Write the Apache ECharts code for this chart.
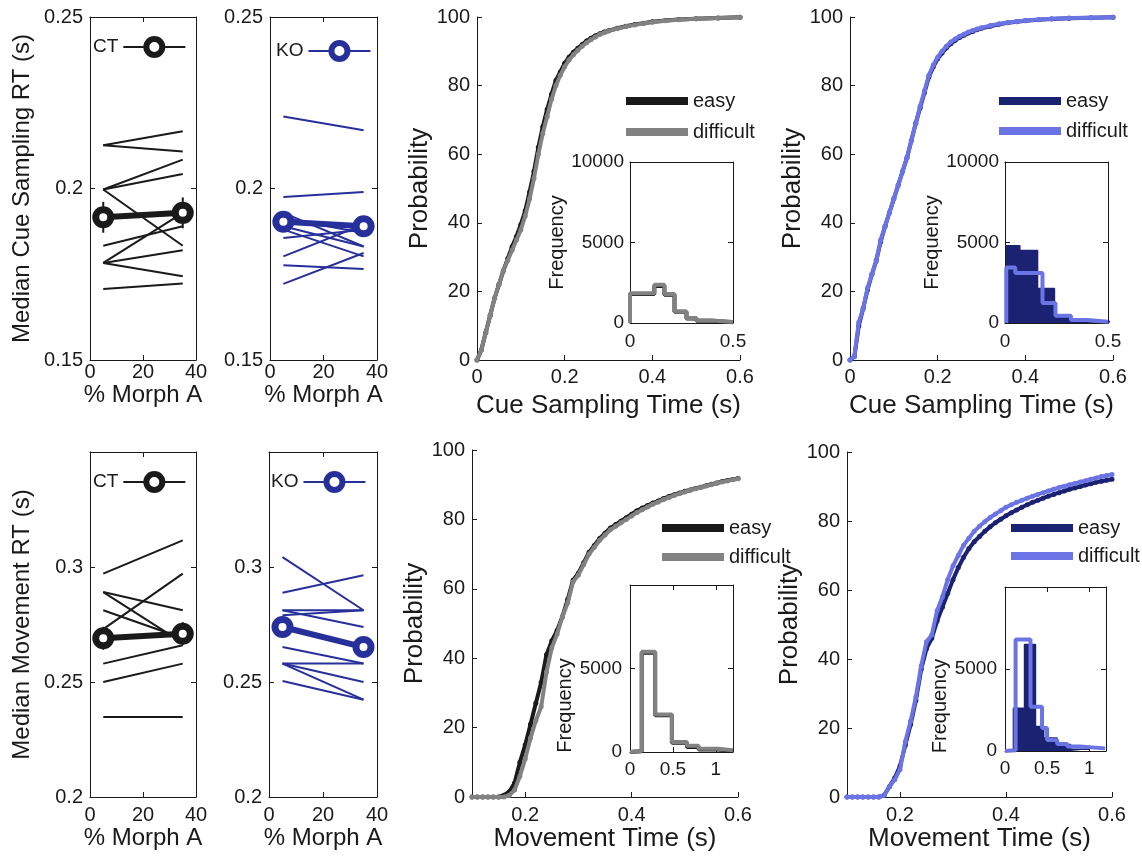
<!DOCTYPE html>
<html>
<head>
<meta charset="utf-8">
<script src="https://cdn.jsdelivr.net/npm/echarts@6/dist/echarts.min.js"></script>
<style>
  html, body { margin: 0; background: #fff; }
  #chart { width: 1142px; height: 858px; }
</style>
</head>
<body>
<div id="chart"></div>
<script>
// ---- data ----
const morphX = [5, 35];

// median cue sampling RT per animal at 5% / 35% morph
const ctCueStart = [0.2126, 0.2126, 0.1997, 0.1997, 0.1997, 0.1833, 0.1783, 0.1783, 0.1783, 0.1707];
const ctCueEnd   = [0.2167, 0.2108, 0.2084, 0.2042, 0.1833, 0.1890, 0.1929, 0.1820, 0.1744, 0.1723];
const ctCueMean  = [0.1916, 0.1929];
const ctCueSem   = [0.0045, 0.0045];

const koCueStart = [0.2210, 0.1975, 0.1929, 0.1914, 0.1900, 0.1890, 0.1880, 0.1856, 0.1802, 0.1776, 0.1722];
const koCueEnd   = [0.2170, 0.1990, 0.1831, 0.1870, 0.1893, 0.1831, 0.1802, 0.1880, 0.1895, 0.1765, 0.1812];
const koCueMean  = [0.1903, 0.1890];
const koCueSem   = [0.0025, 0.0025];

// median movement RT per animal
const ctMoveStart = [0.2971, 0.2891, 0.2891, 0.2812, 0.2730, 0.2690, 0.2580, 0.2500, 0.2348];
const ctMoveEnd   = [0.3116, 0.2812, 0.2670, 0.2690, 0.2971, 0.2715, 0.2660, 0.2580, 0.2348];
const ctMoveMean  = [0.2690, 0.2710];
const ctMoveSem   = [0.005, 0.005];

const koMoveStart = [0.3043, 0.2888, 0.2812, 0.2812, 0.2790, 0.2652, 0.2580, 0.2580, 0.2580, 0.2504];
const koMoveEnd   = [0.2812, 0.2964, 0.2812, 0.2739, 0.2812, 0.2580, 0.2580, 0.2500, 0.2423, 0.2423];
const koMoveMean  = [0.2739, 0.2652];
const koMoveSem   = [0.003, 0.003];

// cumulative probability (%) of cue sampling time
const cueTime = [0, 0.01, 0.02, 0.03, 0.04, 0.05, 0.06, 0.07, 0.08, 0.09, 0.10, 0.11, 0.12, 0.13, 0.14,
  0.15, 0.16, 0.17, 0.18, 0.19, 0.20, 0.21, 0.22, 0.23, 0.24, 0.25, 0.26, 0.27, 0.28, 0.29, 0.30,
  0.32, 0.34, 0.36, 0.38, 0.40, 0.43, 0.46, 0.50, 0.55, 0.60];
const ctCueEasy = [0, 3, 8, 13, 18, 22, 26, 29.5, 33, 36, 39.5, 43.5, 49, 55, 62, 68, 73, 77.5, 81.5, 84,
  86.5, 88.3, 89.7, 90.9, 92, 93, 93.8, 94.5, 95.1, 95.6, 96, 96.7, 97.3, 97.8, 98.2, 98.6, 99, 99.3, 99.5, 99.7, 99.9];
const ctCueDifficult = [0, 3, 8, 13, 18, 22, 26, 29, 32, 35, 38, 42, 47, 53, 60, 66, 71, 76, 80, 83,
  85.5, 87.5, 89, 90.3, 91.5, 92.5, 93.4, 94.2, 94.9, 95.4, 95.9, 96.6, 97.2, 97.7, 98.1, 98.5, 98.9, 99.2, 99.5, 99.7, 99.9];
const koCueEasy = [0, 1, 10, 15, 20.5, 25, 29, 34.5, 39, 43, 47, 51, 55, 59, 64, 69, 73.5, 78, 82.5, 85.5,
  87.8, 89.5, 91, 92.2, 93.2, 94, 94.7, 95.3, 95.8, 96.3, 96.7, 97.3, 97.9, 98.3, 98.6, 98.9, 99.2, 99.4, 99.6, 99.8, 99.9];
const koCueDifficult = [0, 1, 11, 15, 21, 25, 29, 35, 39, 43, 47, 51, 55, 59, 64, 69, 74, 78.5, 83, 86,
  88.3, 90, 91.5, 92.7, 93.6, 94.4, 95, 95.6, 96.1, 96.5, 96.9, 97.5, 98, 98.4, 98.7, 99, 99.3, 99.5, 99.7, 99.8, 99.9];

// cumulative probability (%) of movement time
const moveTime = [0.10, 0.11, 0.12, 0.13, 0.14, 0.15, 0.16, 0.17, 0.18, 0.19, 0.20, 0.21, 0.22, 0.23, 0.24,
  0.25, 0.26, 0.27, 0.28, 0.29, 0.30, 0.31, 0.32, 0.33, 0.34, 0.35, 0.36, 0.37, 0.38, 0.39, 0.40, 0.41, 0.42,
  0.43, 0.44, 0.45, 0.46, 0.47, 0.48, 0.49, 0.50, 0.51, 0.52, 0.53, 0.54, 0.55, 0.56, 0.57, 0.58, 0.59, 0.60];
const ctMoveEasy = [0, 0, 0, 0, 0, 0, 0.5, 1.5, 4, 10, 15, 21, 27, 33, 41, 45, 48, 52, 57, 62.5,
  64.5, 67.5, 70.5, 72.5, 74.5, 76, 77.5, 78.5, 79.5, 80.5, 81.5, 82.5, 83.3, 84, 84.7, 85.3, 86, 86.6, 87.1, 87.6,
  88.1, 88.5, 88.9, 89.3, 89.7, 90.1, 90.5, 90.9, 91.2, 91.5, 91.8];
const ctMoveDifficult = [0, 0, 0, 0, 0, 0, 0, 0.5, 2, 6, 11, 17, 22, 26, 36, 43, 47, 52, 56, 62,
  64, 67, 70, 72, 74, 75.5, 77, 78, 79, 80, 81, 82, 82.8, 83.6, 84.4, 85, 85.7, 86.3, 86.9, 87.4,
  87.9, 88.4, 88.8, 89.2, 89.6, 90, 90.4, 90.8, 91.1, 91.4, 91.7];
const koMoveEasy = [0, 0, 0, 0, 0, 0, 0, 0.5, 3, 5.5, 9, 15, 21, 28, 37, 43, 46, 51, 55, 59,
  63, 66.5, 69.5, 72, 74, 75.5, 77, 78.3, 79.5, 80.5, 81.5, 82.4, 83.2, 84, 84.7, 85.4, 86, 86.6, 87.2, 87.7,
  88.2, 88.7, 89.2, 89.6, 90, 90.4, 90.8, 91.2, 91.5, 91.8, 92.1];
const koMoveDifficult = [0, 0, 0, 0, 0, 0, 0, 0.5, 3, 5, 8, 16, 22, 29, 38, 45, 47, 54, 58, 63,
  67, 70, 73, 75, 77, 78.5, 79.8, 81, 82, 83, 84, 84.7, 85.4, 86, 86.6, 87.2, 87.7, 88.2, 88.7, 89.2,
  89.7, 90.1, 90.5, 90.9, 91.3, 91.7, 92.1, 92.5, 92.9, 93.2, 93.5];

// inset histograms: bin edges (s) and counts
const ctCueHistEdges     = [0, 0.118, 0.167, 0.216, 0.274, 0.323, 0.4, 0.5];
const ctCueHistEasy      = [1800, 2300, 1750, 700, 280, 140, 50];
const ctCueHistDifficult = [1850, 2370, 1800, 720, 300, 150, 60];
const koCueHistEasyEdges = [0.006, 0.072, 0.158, 0.24, 0.32, 0.39, 0.56];
const koCueHistEasy      = [4800, 4500, 2150, 500, 170, 50];
const koCueHistDiffEdges = [0.006, 0.05, 0.182, 0.245, 0.32, 0.4, 0.5];
const koCueHistDifficult = [3450, 3100, 1250, 450, 180, 80];
const ctMoveHistEdges     = [0, 0.137, 0.293, 0.488, 0.664, 0.8, 1.02, 1.2];
const ctMoveHistEasy      = [40, 5950, 2200, 550, 300, 150, 80];
const ctMoveHistDifficult = [60, 6000, 2250, 600, 370, 200, 100];
const koMoveHistEasyEdges = [0.1, 0.232, 0.362, 0.46, 0.62, 0.78, 1.0];
const koMoveHistEasy      = [2600, 6500, 1500, 800, 400, 100];
const koMoveHistDiffEdges = [0, 0.126, 0.303, 0.44, 0.5, 0.62, 0.74, 0.89, 1.19];
const koMoveHistDifficult = [50, 6800, 2700, 1400, 670, 430, 270, 160];

// ---- styling ----
const FONT = '"Liberation Sans", Arial, sans-serif';
const INK = '#1a1a1a';
const CT_COLOR = '#1a1a1a';
const KO_COLOR = '#27309a';
const GRAY = '#828282';
const NAVY = '#1b2272';
const LIGHT = '#6b74e4';

const grids = [], xAxes = [], yAxes = [], series = [], legends = [];

const num = (v) => String(+(+v).toFixed(4));

const valueAxis = (gridIndex, position, o) => ({
  type: 'value',
  gridIndex,
  position,
  min: o.min,
  max: o.max,
  interval: o.interval,
  name: o.name || '',
  nameLocation: 'middle',
  nameGap: o.nameGap,
  nameTextStyle: { fontFamily: FONT, fontSize: o.nameSize || 24, color: INK, padding: o.namePad || 0 },
  axisLine: { show: true, onZero: false, lineStyle: { color: INK, width: 1 } },
  axisTick: { show: true, inside: true, length: 5, lineStyle: { color: INK }, customValues: o.ticks },
  axisLabel: {
    show: !o.hideLabels,
    margin: o.margin,
    fontFamily: FONT,
    fontSize: o.labelSize || 20,
    color: INK,
    customValues: o.labels || o.ticks,
    formatter: o.fmt || num,
  },
  splitLine: { show: false },
})

const panel = (rect, xo, yo, opts = {}) => {
  const g = grids.push({
    left: rect[0], top: rect[1], width: rect[2], height: rect[3],
    show: !!opts.background, backgroundColor: '#fff', borderWidth: 0,
  }) - 1;
  const xi = xAxes.push(valueAxis(g, 'bottom', xo)) - 1;
  const yi = yAxes.push(valueAxis(g, 'left', yo)) - 1;
  if (opts.boxed) {
    xAxes.push(valueAxis(g, 'top', { ...xo, name: '', hideLabels: true }));
    yAxes.push(valueAxis(g, 'right', { ...yo, name: '', hideLabels: true, labels: undefined }));
  }
  return { xi, yi };
}

const errorBar = (color) => (params, api) => {
  const hi = api.coord([api.value(0), api.value(2)]);
  const lo = api.coord([api.value(0), api.value(1)]);
  return {
    type: 'line',
    shape: { x1: hi[0], y1: hi[1], x2: lo[0], y2: lo[1] },
    style: { stroke: color, lineWidth: 2 },
  };
}

const legendText = { fontFamily: FONT, fontSize: 20, color: INK };

const morphPanel = (ax, starts, ends, mean, sem, color, label, legendPos) => {
  starts.forEach((s, i) => {
    series.push({
      type: 'line', xAxisIndex: ax.xi, yAxisIndex: ax.yi, silent: true, z: 2,
      data: [[morphX[0], s], [morphX[1], ends[i]]],
      symbol: 'none', lineStyle: { color, width: 2 },
    });
  });
  series.push({
    type: 'custom', xAxisIndex: ax.xi, yAxisIndex: ax.yi, z: 3,
    data: morphX.map((x, i) => [x, mean[i] - sem[i], mean[i] + sem[i]]),
    encode: { x: 0, y: [1, 2] },
    renderItem: errorBar(color),
  });
  series.push({
    name: label, type: 'line', xAxisIndex: ax.xi, yAxisIndex: ax.yi, z: 4,
    data: morphX.map((x, i) => [x, mean[i]]),
    symbol: 'circle', symbolSize: 15,
    itemStyle: { color: '#fff', borderColor: color, borderWidth: 7 },
    lineStyle: { color, width: 6 },
  });
  legends.push({
    data: [label], left: legendPos[0], top: legendPos[1], align: 'right', padding: 0,
    itemWidth: 62, itemHeight: 20, selectedMode: false,
    formatter: (n) => n.split('#')[0],
    textStyle: { ...legendText, fontSize: 19 },
    lineStyle: { width: 2 },
    itemStyle: { borderWidth: 6 },
  });
}

const cdfPanel = (ax, xs, easy, difficult, easyColor, diffColor, tag, legendPos, gap) => {
  [[easy, easyColor, 'easy#' + tag], [difficult, diffColor, 'difficult#' + tag]].forEach(([vals, color, name], k) => {
    series.push({
      name, type: 'line', xAxisIndex: ax.xi, yAxisIndex: ax.yi, z: 2 + k,
      data: xs.map((x, i) => [x, vals[i]]),
      symbol: 'circle', symbolSize: 5, showAllSymbol: true,
      itemStyle: { color }, lineStyle: { color, width: 4 },
    });
  });
  legends.push({
    data: ['easy#' + tag, 'difficult#' + tag], orient: 'vertical',
    left: legendPos[0], top: legendPos[1], padding: 0, itemGap: gap,
    itemWidth: 62, itemHeight: 10, selectedMode: false,
    formatter: (n) => n.split('#')[0],
    textStyle: legendText,
    lineStyle: { width: 8 },
  });
}

const stepData = (edges, counts) => {
  const d = [[edges[0], 0]];
  counts.forEach((c, i) => d.push([edges[i], c]));
  d.push([edges[edges.length - 1], counts[counts.length - 1]]);
  return d;
}

const histSeries = (ax, edges, counts, color, filled, z) => ({
  type: 'line', step: 'end', xAxisIndex: ax.xi, yAxisIndex: ax.yi, z, silent: true,
  data: stepData(edges, counts), symbol: 'none', clip: !filled,
  lineStyle: { color, width: filled ? 1.5 : 4 },
  areaStyle: filled ? { color, opacity: 1 } : undefined,
})

// ---- top row ----
const A = panel([90, 17, 106, 343],
  { min: 0, max: 40, interval: 20, name: '% Morph A', nameGap: 17, margin: 2 },
  { min: 0.15, max: 0.25, interval: 0.05, name: 'Median Cue Sampling RT (s)', nameGap: 56, margin: 7 },
  { boxed: true });
morphPanel(A, ctCueStart, ctCueEnd, ctCueMean, ctCueSem, CT_COLOR, 'CT#A', [93, 36]);

const B = panel([270, 17, 107, 343],
  { min: 0, max: 40, interval: 20, name: '% Morph A', nameGap: 17, margin: 2 },
  { min: 0.15, max: 0.25, interval: 0.05, margin: 7 },
  { boxed: true });
morphPanel(B, koCueStart, koCueEnd, koCueMean, koCueSem, KO_COLOR, 'KO#B', [276, 40]);

const C = panel([477, 17, 263, 343],
  { min: 0, max: 0.6, interval: 0.2, name: 'Cue Sampling Time (s)', nameGap: 33, nameSize: 26, margin: 7 },
  { min: 0, max: 100, interval: 20, name: 'Probability', nameGap: 41, nameSize: 26, margin: 7 });
cdfPanel(C, cueTime, ctCueEasy, ctCueDifficult, CT_COLOR, GRAY, 'C', [622, 91], 11);

const Cin = panel([630, 162, 103, 161],
  { min: 0, max: 0.5, interval: 0.5, margin: 9, labelSize: 19 },
  { min: 0, max: 10000, interval: 5000, name: 'Frequency', nameGap: 57, nameSize: 20, margin: 6, labelSize: 19 },
  { boxed: true, background: true });
series.push(histSeries(Cin, ctCueHistEdges, ctCueHistEasy, CT_COLOR, false, 5));
series.push(histSeries(Cin, ctCueHistEdges, ctCueHistDifficult, GRAY, false, 6));

const D = panel([850, 17, 263, 343],
  { min: 0, max: 0.6, interval: 0.2, name: 'Cue Sampling Time (s)', nameGap: 33, nameSize: 26, margin: 7 },
  { min: 0, max: 100, interval: 20, name: 'Probability', nameGap: 40, nameSize: 26, margin: 7 });
cdfPanel(D, cueTime, koCueEasy, koCueDifficult, NAVY, LIGHT, 'D', [995, 91], 10);

const Din = panel([1005, 162, 103, 161],
  { min: 0, max: 0.5, interval: 0.5, margin: 9, labelSize: 19 },
  { min: 0, max: 10000, interval: 5000, name: 'Frequency', nameGap: 60, nameSize: 20, margin: 6, labelSize: 19 },
  { boxed: true, background: true });
series.push(histSeries(Din, koCueHistEasyEdges, koCueHistEasy, NAVY, true, 5));
series.push(histSeries(Din, koCueHistDiffEdges, koCueHistDifficult, LIGHT, false, 6));

// ---- bottom row ----
const hideTop = (v) => (v > 0.34 ? '' : num(v));

const E = panel([90, 452, 106, 345],
  { min: 0, max: 40, interval: 20, name: '% Morph A', nameGap: 27, margin: 8 },
  { min: 0.2, max: 0.35, interval: 0.05, name: 'Median Movement RT (s)', nameGap: 56, margin: 7, fmt: hideTop },
  { boxed: true });
morphPanel(E, ctMoveStart, ctMoveEnd, ctMoveMean, ctMoveSem, CT_COLOR, 'CT#E', [93, 471]);

const F = panel([269, 452, 108, 345],
  { min: 0, max: 40, interval: 20, name: '% Morph A', nameGap: 27, margin: 8 },
  { min: 0.2, max: 0.35, interval: 0.05, margin: 7, fmt: hideTop },
  { boxed: true });
morphPanel(F, koMoveStart, koMoveEnd, koMoveMean, koMoveSem, KO_COLOR, 'KO#F', [271, 471]);

const G = panel([472, 450, 266, 347],
  { min: 0.1, max: 0.6, ticks: [0.2, 0.4, 0.6], name: 'Movement Time (s)', nameGap: 29, nameSize: 26, margin: 8 },
  { min: 0, max: 100, interval: 20, name: 'Probability', nameGap: 37, nameSize: 26, margin: 7 });
cdfPanel(G, moveTime, ctMoveEasy, ctMoveDifficult, CT_COLOR, GRAY, 'G', [658, 518], 9);

const Gin = panel([630, 585, 103, 167],
  { min: 0, max: 1.2, ticks: [0, 0.5, 1], margin: 8, labelSize: 19 },
  { min: 0, max: 10000, interval: 5000, labels: [0, 5000], name: 'Frequency', nameGap: 52, nameSize: 20,
    namePad: [0, 74, 0, 0], margin: 8, labelSize: 19 },
  { boxed: true, background: true });
series.push(histSeries(Gin, ctMoveHistEdges, ctMoveHistEasy, CT_COLOR, false, 5));
series.push(histSeries(Gin, ctMoveHistEdges, ctMoveHistDifficult, GRAY, false, 6));

const H = panel([847, 452, 265, 345],
  { min: 0.1, max: 0.6, ticks: [0.2, 0.4, 0.6], name: 'Movement Time (s)', nameGap: 29, nameSize: 26, margin: 8 },
  { min: 0, max: 100, interval: 20, name: 'Probability', nameGap: 37, nameSize: 26, margin: 7 });
cdfPanel(H, moveTime, koMoveEasy, koMoveDifficult, NAVY, LIGHT, 'H', [1007, 518], 8);

const Hin = panel([1005, 587, 101, 164],
  { min: 0, max: 1.2, ticks: [0, 0.5, 1], margin: 8, labelSize: 19 },
  { min: 0, max: 10000, interval: 5000, labels: [0, 5000], name: 'Frequency', nameGap: 54, nameSize: 20,
    namePad: [0, 74, 0, 0], margin: 8, labelSize: 19 },
  { boxed: true, background: true });
series.push(histSeries(Hin, koMoveHistEasyEdges, koMoveHistEasy, NAVY, true, 5));
series.push(histSeries(Hin, koMoveHistDiffEdges, koMoveHistDifficult, LIGHT, false, 6));

const chart = echarts.init(document.getElementById('chart'));
chart.setOption({
  animation: false,
  backgroundColor: '#fff',
  textStyle: { fontFamily: FONT },
  grid: grids,
  xAxis: xAxes,
  yAxis: yAxes,
  legend: legends,
  series,
});
window.addEventListener('resize', () => chart.resize());
</script>
</body>
</html>
